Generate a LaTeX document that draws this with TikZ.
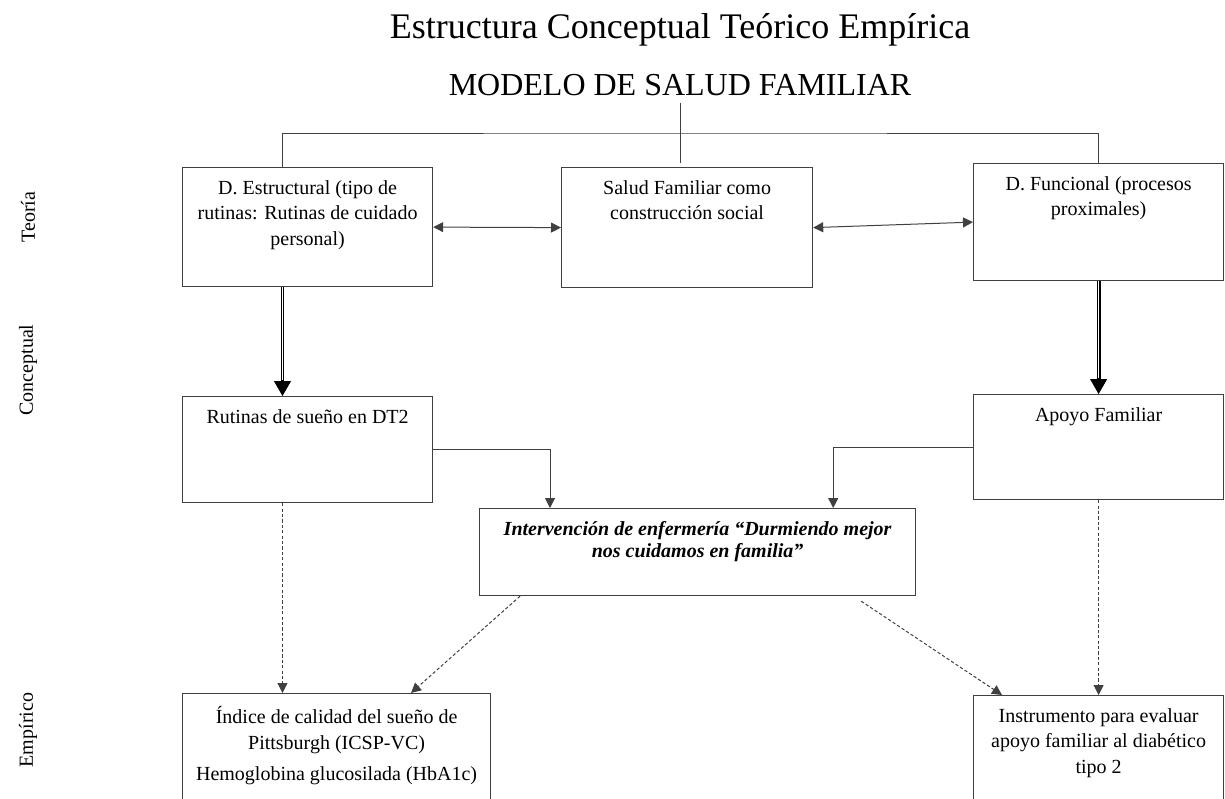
\documentclass[tikz,border=0pt]{standalone}
\usepackage{fontspec}
\setmainfont{Liberation Serif}
\usetikzlibrary{positioning,calc,arrows.meta}
\tikzstyle{diagram} = [x=0.5pt, y=-0.5pt]
\definecolor{lineColor}{RGB}{64,64,64}
\tikzstyle{boxStyle} = [draw=lineColor, line width=0.6pt, inner sep=0pt, anchor=north west]
\tikzstyle{boxText} = [inner sep=0pt, align=center, font=\fontsize{10}{12.75}\selectfont]
\tikzstyle{linkLine} = [draw=lineColor, line width=0.5pt]
\tikzstyle{linkArrow} = [linkLine, -{Triangle[length=5pt, width=5pt]}]
\tikzstyle{bothArrow} = [linkLine, {Triangle[length=5pt, width=5pt]}-{Triangle[length=5pt, width=5pt]}]
\tikzstyle{dashArrow} = [linkArrow, dash pattern=on 1.6pt off 1.1pt]
\tikzstyle{doubleShaft} = [draw=black, double=white, line width=0.55pt, double distance=0.8pt, shorten >=7pt]
\tikzstyle{doubleHead} = [-{Triangle[length=7.5pt, width=8.5pt]}, line width=0.5pt]
\tikzstyle{sideLabel} = [rotate=90, font=\fontsize{10}{12}\selectfont]
\newcommand{\conceptBox}[7][]{
  \node [boxStyle, minimum width=#5*0.5pt, minimum height=#6*0.5pt] (#2) at (#3,#4) {};
  \node [boxText, #1, below=6.5pt of #2.north] (#2Text) {#7};
}

\begin{document}
\begin{tikzpicture}[diagram]
  \useasboundingbox (0,0) rectangle (1225,798);
  \clip (0,0) rectangle (1225,798);

  \node [font=\fontsize{18}{22}\selectfont] (title) at (680,30) {Estructura Conceptual Teórico Empírica};
  \node [font=\fontsize{16}{20}\selectfont] (model) at (680,85) {MODELO DE SALUD FAMILIAR};

  \node [sideLabel] (theory) at (28,217) {Teoría};
  \node [sideLabel] (concept) at (28,370) {Conceptual};
  \node [sideLabel] (empiric) at (28,730) {Empírico};

  \conceptBox{structural}{182}{167}{250}{119}{D. Estructural (tipo de\\rutinas: Rutinas de cuidado\\personal)}
  \conceptBox{social}{561}{167}{251}{120}{Salud Familiar como\\construcción social}
  \conceptBox{functional}{973}{163}{250}{117}{D. Funcional (procesos\\proximales)}
  \conceptBox{sleep}{182}{396}{250}{106}{Rutinas de sueño en DT2}
  \conceptBox{support}{973}{394}{250}{105}{Apoyo Familiar}
  \conceptBox[font=\bfseries\itshape\fontsize{10}{11}\selectfont]{nursing}{479}{508}{436}{87}{Intervención de enfermería “Durmiendo mejor\\nos cuidamos en familia”}
  \conceptBox{index}{182}{693}{308}{130}{Índice de calidad del sueño de\\Pittsburgh (ICSP-VC)\\[3pt]Hemoglobina glucosilada (HbA1c)}
  \conceptBox{tool}{973}{695}{250}{130}{Instrumento para evaluar\\apoyo familiar al diabético\\tipo 2}

  % top branches
  \coordinate (bar) at (680,133);
  \coordinate (structuralTop) at ($(structural.north west)!0.4!(structural.north east)$);
  \draw [linkLine] (model.south) -- (model.south |- social.north) [shorten >=2pt];
  \draw [linkLine] (structuralTop) |- (bar) -| (functional.north);

  \draw [bothArrow] (structural.east) -- (social.west);
  \draw [bothArrow] (social.east) -- (functional.west);

  % double arrows
  \coordinate (structuralFoot) at ($(structural.south west)!0.4!(structural.south east)$);
  \coordinate (sleepTop) at (structuralFoot |- sleep.north);
  \draw [doubleShaft] (structuralFoot) -- (sleepTop);
  \draw [doubleHead] ($(sleepTop)+(0,-16)$) -- (sleepTop);
  \draw [doubleShaft] (functional.south) -- (support.north);
  \draw [doubleHead] ($(support.north)+(0,-16)$) -- (support.north);

  \draw [linkArrow] (sleep.east) -| ($(nursing.north west)+(71,0)$);
  \draw [linkArrow] (support.west) -| ($(nursing.north east)+(-83,0)$);

  % empirical links
  \coordinate (sleepFoot) at ($(sleep.south west)!0.4!(sleep.south east)$);
  \draw [dashArrow] (sleepFoot) -- (sleepFoot |- index.north);
  \draw [dashArrow] ($(nursing.south west)+(41,0)$) -- ($(index.north west)+(229,0)$);
  \draw [dashArrow] ($(nursing.south east)+(-55,5)$) -- ($(tool.north west)+(29,0)$);
  \draw [dashArrow] (support.south) -- (tool.north);
\end{tikzpicture}
\end{document}
